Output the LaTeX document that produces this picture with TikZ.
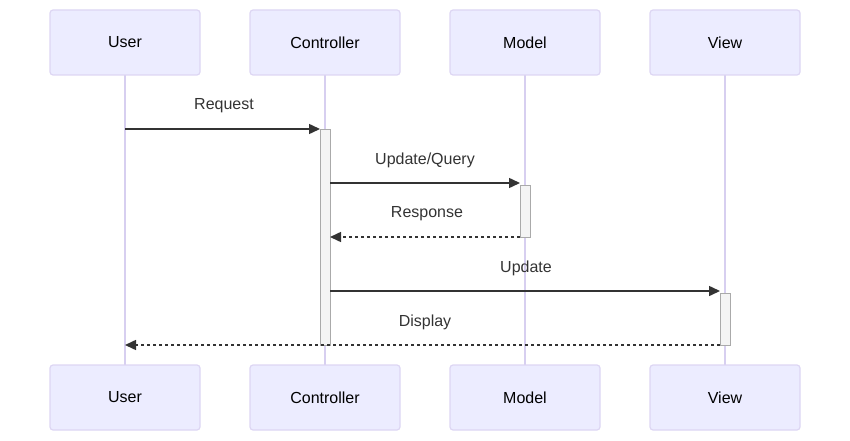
\documentclass[tikz,border=0pt]{standalone}
\usepackage{fontspec}
\setmainfont{Liberation Sans}
\usetikzlibrary{arrows.meta}
\definecolor{actfill}{HTML}{ECECFF}
\definecolor{actline}{HTML}{DDD6F3}
\definecolor{lifeln}{HTML}{D7CFF0}
\definecolor{txt}{HTML}{333333}
\definecolor{actvfill}{HTML}{F4F4F4}
\definecolor{actvline}{HTML}{AAAAAA}
\begin{document}
\begin{tikzpicture}[x=1pt,y=-1pt,
  actor/.style={draw=actline,fill=actfill,line width=1.2pt,rounded corners=3pt,minimum width=150pt,minimum height=65pt,inner sep=0pt,text=black,font=\fontsize{16}{19}\selectfont},
  lifeline/.style={draw=lifeln,line width=1.5pt},
  actv/.style={draw=actvline,fill=actvfill,line width=1pt,minimum width=10pt,inner sep=0pt},
  msg/.style={draw=txt,line width=1.5pt,-{Triangle[length=11pt,width=10pt]}},
  rep/.style={msg,dash pattern=on 3pt off 3pt},
  lbl/.style={text=txt,font=\fontsize{16}{19}\selectfont,inner sep=0pt}]
\useasboundingbox (0,0) rectangle (850,441);
% lifelines
\foreach \x/\n in {125/u,325/c,525/m,725/v}{
  \coordinate (\n t) at (\x,75);
  \coordinate (\n b) at (\x,365);
  \draw[lifeline] (\n t) -- (\n b);
}
% actors
\node[actor] (ut) at (125,42.5) {User};
\node[actor] (ct) at (325,42.5) {Controller};
\node[actor] (mt) at (525,42.5) {Model};
\node[actor] (vt) at (725,42.5) {View};
\node[actor] (ub) at (125,397.5) {User};
\node[actor] (cb) at (325,397.5) {Controller};
\node[actor] (mb) at (525,397.5) {Model};
\node[actor] (vb) at (725,397.5) {View};
% activations
\node[actv,minimum height=216pt] (ca) at (325,237) {};
\node[actv,minimum height=52pt] (ma) at (525,211) {};
\node[actv,minimum height=52pt] (va) at (725,319) {};
% message endpoints
\coordinate (r1) at (125,129);
\coordinate (r2) at (320,129);
\coordinate (q1) at (330,183);
\coordinate (q2) at (520,183);
\coordinate (s1) at (520,237);
\coordinate (s2) at (330,237);
\coordinate (p1) at (330,291);
\coordinate (p2) at (720,291);
\coordinate (d1) at (720,345);
\coordinate (d2) at (125,345);
\draw[msg] (r1) -- (r2);
\draw[msg] (q1) -- (q2);
\draw[rep] (s1) -- (s2);
\draw[msg] (p1) -- (p2);
\draw[rep] (d1) -- (d2);
% labels
\node[lbl] (l1) at (224,106) {Request};
\node[lbl] (l2) at (425,160) {Update/Query};
\node[lbl] (l3) at (427,214) {Response};
\node[lbl] (l4) at (526,268) {Update};
\node[lbl] (l5) at (425,322) {Display};
\end{tikzpicture}
\end{document}
